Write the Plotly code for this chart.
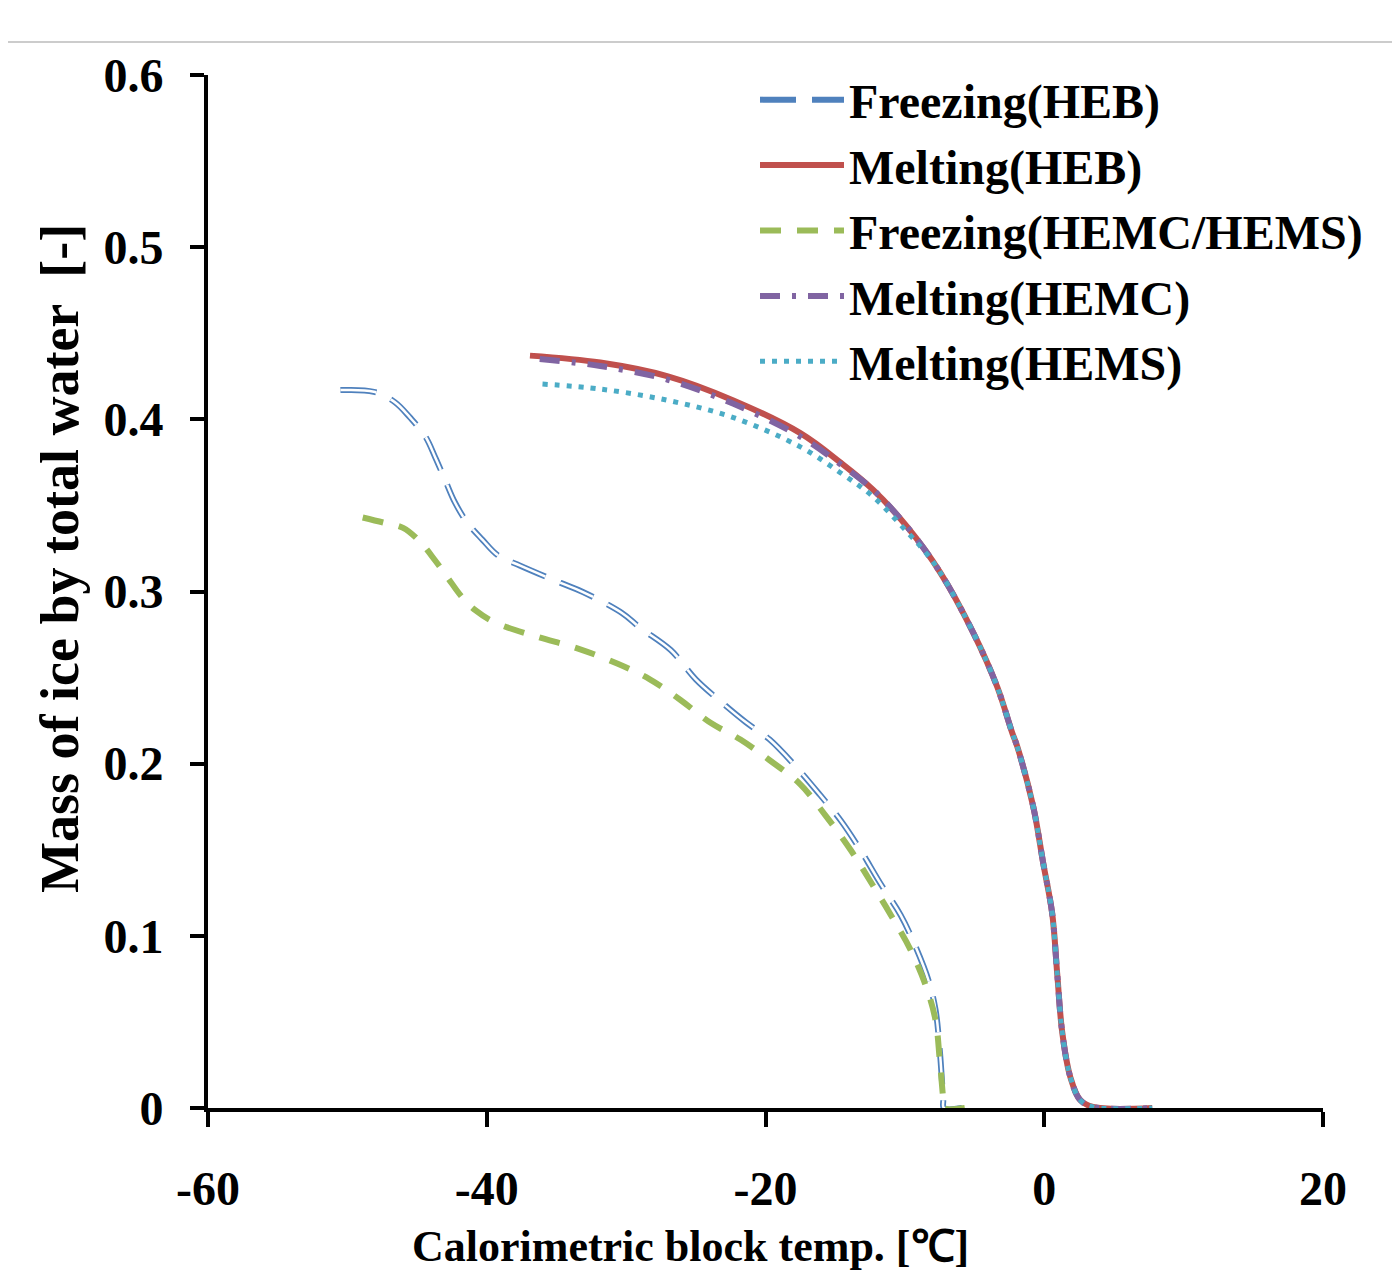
import plotly.graph_objects as go

# ---------------- data ----------------
freeze_heb_x = [-50.5, -48.1, -46.6, -45.5, -44.4, -43.7, -43.0, -42.3, -41.4, -40.3, -39.2, -37.6,
                -34.7, -33.1, -30.3, -29.0, -26.8, -25.0, -23.2, -21.4, -19.7, -17.9, -16.1, -14.6,
                -13.2, -11.8, -10.3, -9.3, -8.3, -7.8, -7.5, -7.25, -7.2, -5.9]
freeze_heb_y = [0.417, 0.416, 0.410, 0.401, 0.390, 0.378, 0.365, 0.352, 0.340, 0.330, 0.321, 0.315,
                0.305, 0.2997, 0.2875, 0.279, 0.266, 0.249, 0.236, 0.224, 0.214, 0.199, 0.182, 0.167,
                0.150, 0.131, 0.112, 0.095, 0.074, 0.057, 0.034, 0.005, 0.0, 0.0]

melt_heb_x = [-36.9, -31.85, -27.0, -22.3, -17.5, -14.63, -12.27, -9.83, -7.46, -5.09, -3.37, -2.30,
              -1.94, -0.79, -0.07, 0.57, 0.93, 1.29, 1.87, 2.58, 3.5, 7.75]
melt_heb_y = [0.437, 0.433, 0.425, 0.411, 0.392, 0.375, 0.359, 0.3375, 0.311, 0.276, 0.2445, 0.218,
              0.210, 0.175, 0.142, 0.113, 0.078, 0.044, 0.018, 0.0046, 0.0006, 0.0]

freeze_hemc_x = [-48.9, -47.4, -46.0, -44.8, -43.7, -42.8, -41.8, -40.8, -39.4, -36.5, -33.5, -30.6,
                 -28.3, -26.1, -24.0, -21.8, -19.7, -17.5, -15.7, -13.9, -12.5, -11.0, -9.6, -8.5,
                 -7.8, -7.5, -7.25, -7.2, -5.7]
freeze_hemc_y = [0.343, 0.340, 0.337, 0.329, 0.318, 0.308, 0.297, 0.289, 0.282, 0.274, 0.267, 0.258,
                 0.249, 0.237, 0.224, 0.214, 0.202, 0.188, 0.170, 0.150, 0.132, 0.112, 0.092, 0.071,
                 0.051, 0.028, 0.005, 0.0, 0.0]

melt_hemc_x = [-36.2, -31.85, -27.0, -22.3, -17.5, -14.63, -12.27, -9.83, -7.46, -5.09, -3.37, -2.30,
               -1.94, -0.79, -0.07, 0.57, 0.93, 1.29, 1.87, 2.58, 3.5, 7.75]
melt_hemc_y = [0.435, 0.431, 0.423, 0.409, 0.390, 0.374, 0.359, 0.3375, 0.311, 0.276, 0.2445, 0.218,
               0.210, 0.175, 0.142, 0.113, 0.078, 0.044, 0.018, 0.0046, 0.0006, 0.0]

melt_hems_x = [-36.0, -31.85, -27.0, -22.3, -17.5, -14.63, -12.27, -9.83, -8.6, -7.46, -5.09, -3.37,
               -2.30, -1.94, -0.79, -0.07, 0.57, 0.93, 1.29, 1.87, 2.58, 3.5, 7.75]
melt_hems_y = [0.4205, 0.4176, 0.411, 0.401, 0.384, 0.369, 0.355, 0.3345, 0.3235, 0.311, 0.276, 0.2445,
               0.218, 0.210, 0.175, 0.142, 0.113, 0.078, 0.044, 0.018, 0.0046, 0.0006, 0.0]

x_ticks = [-60, -40, -20, 0, 20]
y_ticks = [0, 0.1, 0.2, 0.3, 0.4, 0.5, 0.6]
y_tick_text = ["0", "0.1", "0.2", "0.3", "0.4", "0.5", "0.6"]

x_title = "Calorimetric block temp. [℃]"
y_title = "Mass of ice by total water  [-]"

# ---------------- layout geometry ----------------
OFF = 8  # default page body margin
W, H = 1400 - OFF, 1278 - OFF
PL, PR, PT, PB = 208, 1323, 75, 1108  # desired plot-area edges in window pixels
ML, MR, MT, MB = PL - OFF, W - (PR - OFF), PT - OFF, H - (PB - OFF)
pw = PR - PL
ph = PB - PT


def px_x(x):  # window pixel -> paper x
    return (x - PL) / pw


def px_y(y):  # window pixel -> paper y
    return (PB - y) / ph


FONT = "Liberation Serif, Times New Roman, serif"
BLUE = "#4F81BD"
RED = "#C0504D"
GREEN = "#9BBB59"
PURPLE = "#8064A2"
CYAN = "#4BACC6"
SM = 1.0

fig = go.Figure()

# Freezing(HEB): outlined dashed line (blue outline + white core)
fig.add_trace(go.Scatter(x=freeze_heb_x, y=freeze_heb_y, mode="lines", name="Freezing(HEB)",
                         line=dict(color=BLUE, width=6, dash="36px,16px", shape="spline", smoothing=SM)))
fig.add_trace(go.Scatter(x=freeze_heb_x, y=freeze_heb_y, mode="lines", showlegend=False,
                         hoverinfo="skip",
                         line=dict(color="white", width=2.5, dash="36px,16px", shape="spline", smoothing=SM)))
fig.add_trace(go.Scatter(x=melt_heb_x, y=melt_heb_y, mode="lines", name="Melting(HEB)",
                         line=dict(color=RED, width=6, shape="spline", smoothing=SM)))
fig.add_trace(go.Scatter(x=freeze_hemc_x, y=freeze_hemc_y, mode="lines", name="Freezing(HEMC/HEMS)",
                         line=dict(color=GREEN, width=6, dash="21px,16px", shape="spline", smoothing=SM)))
fig.add_trace(go.Scatter(x=melt_hemc_x, y=melt_hemc_y, mode="lines", name="Melting(HEMC)",
                         line=dict(color=PURPLE, width=6, dash="20px,12px,4px,12px", shape="spline",
                                   smoothing=SM)))
fig.add_trace(go.Scatter(x=melt_hems_x, y=melt_hems_y, mode="lines", name="Melting(HEMS)",
                         line=dict(color=CYAN, width=5, dash="5px,7px", shape="spline", smoothing=SM)))

fig.update_layout(
    width=W, height=H,
    margin=dict(l=ML, r=MR, t=MT, b=MB, pad=0),
    paper_bgcolor="white", plot_bgcolor="white",
    font=dict(family=FONT, size=48, color="black"),
    showlegend=True,
    legend=dict(
        x=px_x(755), y=px_y(62), xanchor="left", yanchor="top",
        bgcolor="rgba(0,0,0,0)", borderwidth=0,
        font=dict(family=FONT, size=48, color="black", weight="bold"),
        itemwidth=84, tracegroupgap=0,
    ),
    xaxis=dict(
        range=[-60, 20], tickvals=x_ticks, ticktext=[str(v) for v in x_ticks],
        showgrid=False, zeroline=False,
        showline=True, linecolor="black", linewidth=4, mirror=False,
        ticks="outside", ticklen=15, tickwidth=4, tickcolor="black",
        tickfont=dict(family=FONT, size=48, color="black", weight="bold"),
        ticklabelstandoff=20,
    ),
    yaxis=dict(
        range=[0, 0.6], tickvals=y_ticks, ticktext=y_tick_text,
        showgrid=False, zeroline=False,
        showline=True, linecolor="black", linewidth=4, mirror=False,
        ticks="outside", ticklen=14, tickwidth=4, tickcolor="black",
        tickfont=dict(family=FONT, size=48, color="black", weight="bold"),
        ticklabelstandoff=17,
    ),
    annotations=[
        dict(text=x_title, xref="paper", yref="paper",
             x=px_x(690), y=px_y(1246), xanchor="center", yanchor="middle",
             showarrow=False, font=dict(family=FONT, size=44, color="black", weight="bold")),
        dict(text=y_title, xref="paper", yref="paper", textangle=-90,
             x=px_x(60), y=px_y(559), xanchor="center", yanchor="middle",
             showarrow=False, font=dict(family=FONT, size=54, color="black", weight="bold")),
    ],
    shapes=[
        dict(type="line", xref="paper", yref="paper",
             x0=px_x(OFF), x1=px_x(1400), y0=px_y(42), y1=px_y(42),
             line=dict(color="#CCCCCC", width=2), layer="above"),
    ],
)

fig.write_html("out.html")
